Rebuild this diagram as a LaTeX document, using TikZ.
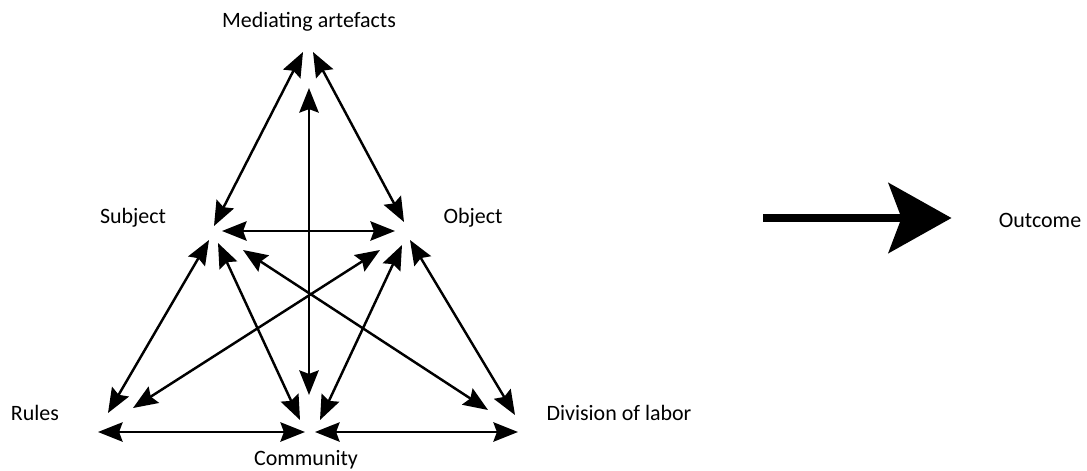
\documentclass[tikz,border=0pt]{standalone}
\usepackage{fontspec}
\setmainfont{Carlito}
\usepackage{tikz}
\usetikzlibrary{arrows.meta,positioning,calc}
\tikzset{
  vlabel/.style={inner sep=0pt, font=\fontsize{12.5}{15}\selectfont},
  duoarrow/.style={{Stealth[length=14pt,width=11pt,inset=2pt]}-{Stealth[length=14pt,width=11pt,inset=2pt]}, line width=1.4pt},
  flowarrow/.style={-{Stealth[length=1.26cm,width=1.4cm,inset=0.26cm]}, line width=4pt}
}
\begin{document}
\begin{tikzpicture}[x=0.02cm,y=-0.02cm]
  \useasboundingbox (0,0) rectangle (1087,470);
  % corners of the triangle
  \coordinate (tool) at (309,50);
  \coordinate (subj) at (213,232);
  \coordinate (obj) at (405,232);
  \coordinate (rules) at (105,418);
  \coordinate (comm) at (310,428);
  \coordinate (div) at (517,418);
  % labels
  \node[vlabel] (toollbl) at (309,22) {Mediating artefacts};
  \node[vlabel] (subjlbl) at (133,218) {Subject};
  \node[vlabel] (objlbl) at (473,218) {Object};
  \node[vlabel] (ruleslbl) at (35,413) {Rules};
  \node[vlabel] (divlbl) at (619,413) {Division of labor};
  \node[vlabel] (commlbl) at (306,460) {Community};
  \node[vlabel] (outlbl) at (1040,220) {Outcome};
  % two-way links
  \draw[duoarrow] ([shift={(-6,2)}]tool) -- ([shift={(1,-6)}]subj);
  \draw[duoarrow] ([shift={(4,2)}]tool) -- ([shift={(-1,-10)}]obj);
  \draw[duoarrow] ([shift={(0,38)}]tool) -- ([shift={(-1,-33)}]comm);
  \draw[duoarrow] ([shift={(9,-1)}]subj) -- ([shift={(-10,-1)}]obj);
  \draw[duoarrow] ([shift={(-4,8)}]subj) -- ([shift={(3,-5)}]rules);
  \draw[duoarrow] ([shift={(5,11)}]subj) -- ([shift={(-10,-8)}]comm);
  \draw[duoarrow] ([shift={(30,18)}]subj) -- ([shift={(-29,-8)}]div);
  \draw[duoarrow] ([shift={(-25,18)}]obj) -- ([shift={(28,-10)}]rules);
  \draw[duoarrow] ([shift={(-3,13)}]obj) -- ([shift={(10,-8)}]comm);
  \draw[duoarrow] ([shift={(5,8)}]obj) -- ([shift={(-2,-3)}]div);
  \draw[duoarrow] ([shift={(-7,14)}]rules) -- ([shift={(-5,4)}]comm);
  \draw[duoarrow] ([shift={(5,4)}]comm) -- ([shift={(1,14)}]div);
  % outcome
  \coordinate (flowstart) at (763,218);
  \draw[flowarrow] (flowstart) -- ([shift={(-47,-2)}]outlbl.west);
\end{tikzpicture}
\end{document}
